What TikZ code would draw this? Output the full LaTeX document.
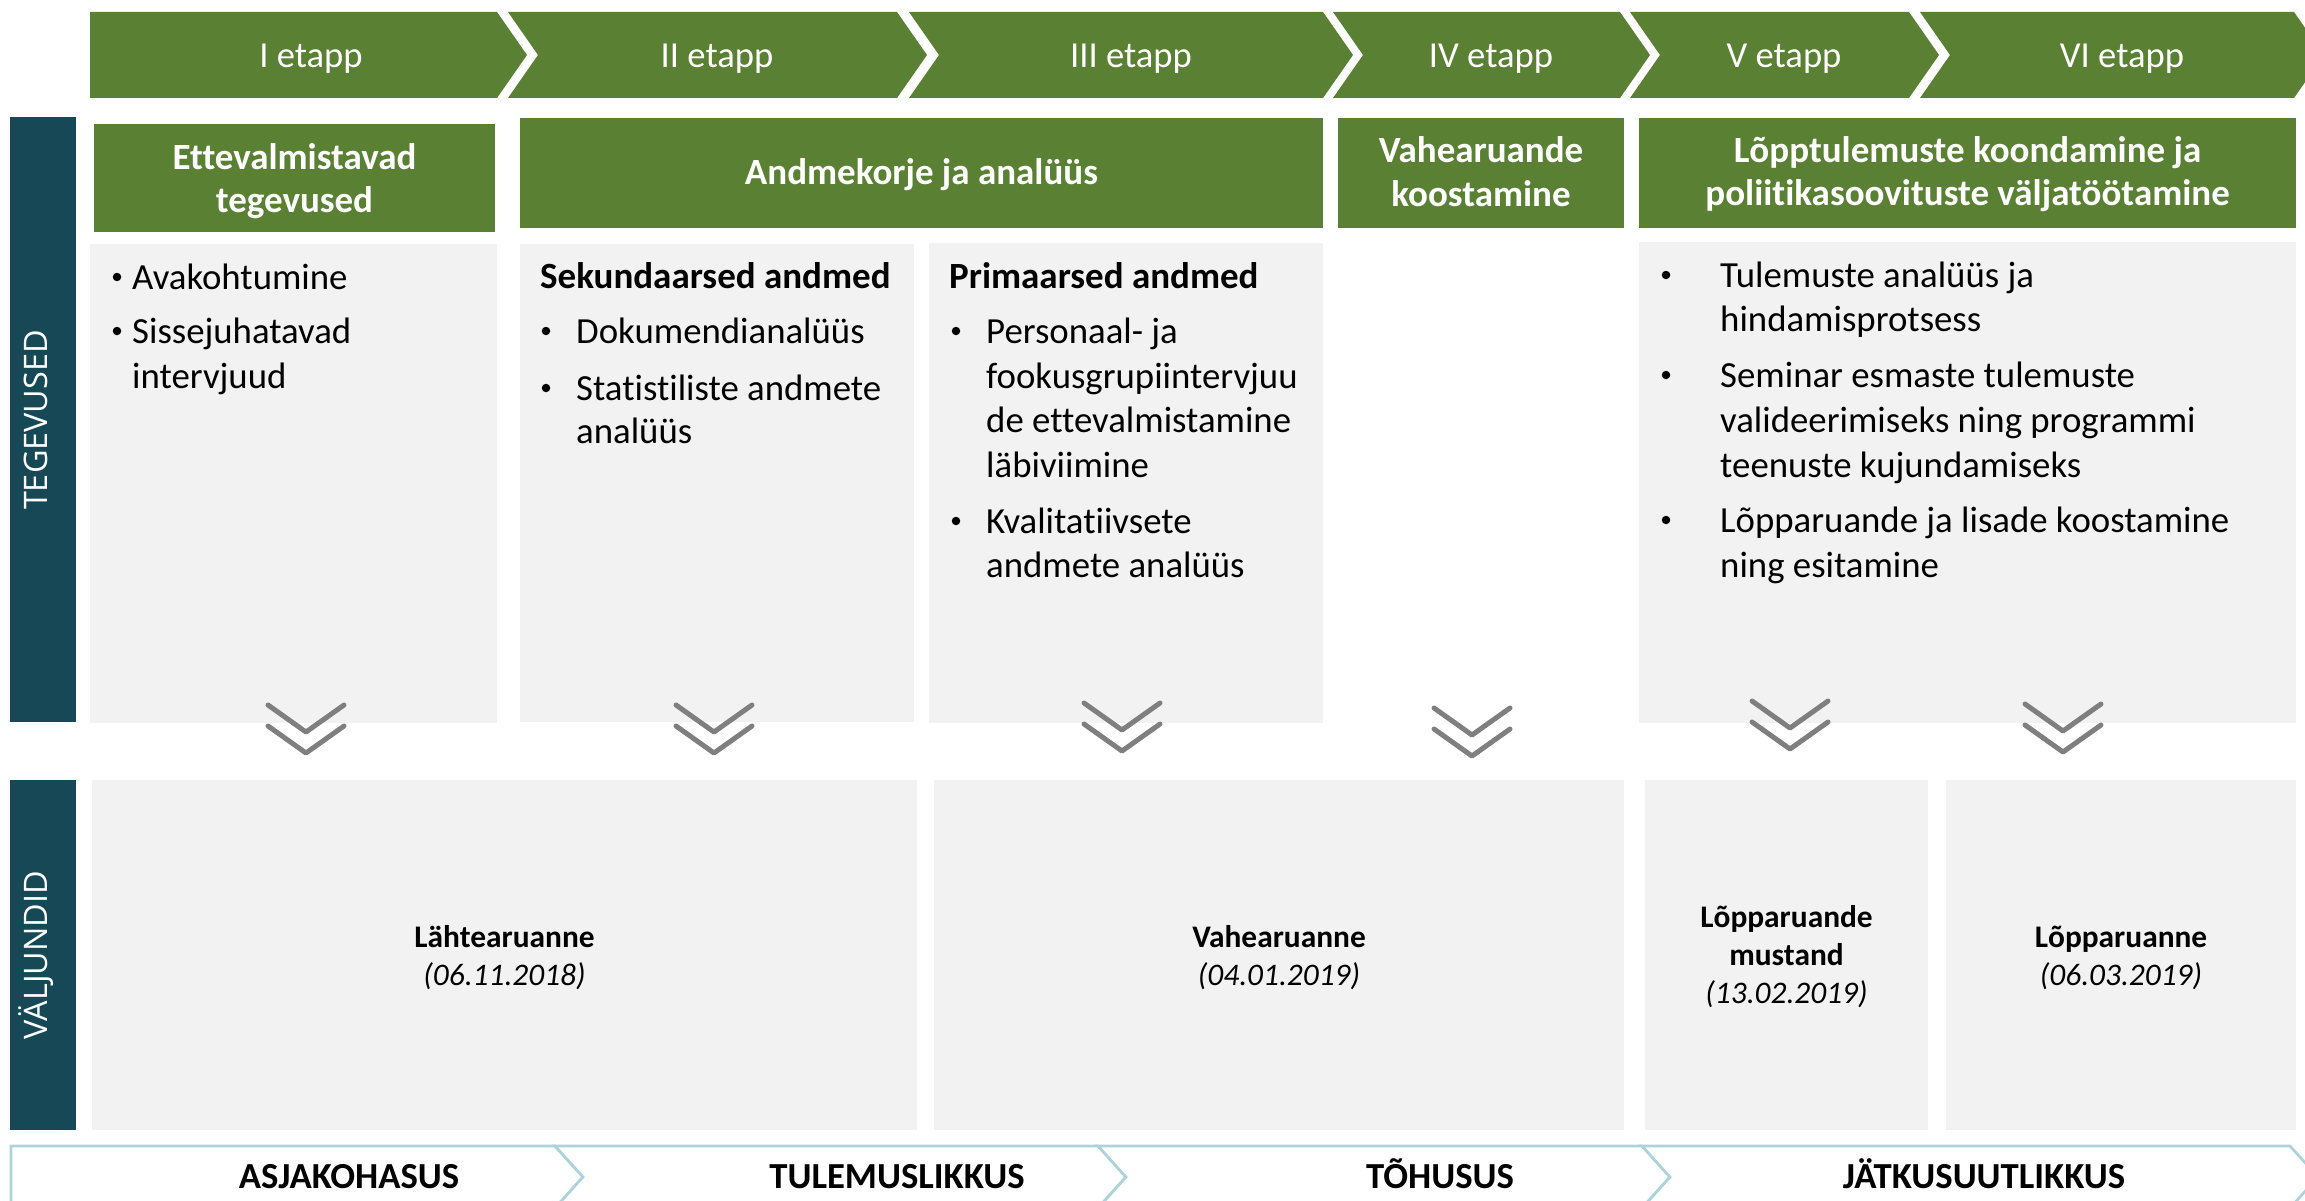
\documentclass[tikz,border=0pt]{standalone}
\usepackage{fontspec}
\setmainfont{Carlito}[Ligatures=NoCommon]
\newfontfamily\sidefont{Open Sans}
\definecolor{stagegreen}{RGB}{90,128,52}
\definecolor{deepteal}{RGB}{23,72,86}
\definecolor{panelgrey}{RGB}{242,242,242}
\definecolor{arrowgrey}{RGB}{127,127,127}
\definecolor{critline}{RGB}{172,210,220}
\begin{document}
\begin{tikzpicture}[x=1pt,y=-1pt,
  panel/.style={fill=panelgrey, draw=none, inner sep=0pt, anchor=north west},
  hdrbox/.style={fill=stagegreen, draw=none, inner sep=0pt, anchor=north west},
  sidebar/.style={fill=deepteal, draw=none, inner sep=0pt, anchor=north west},
  stagelbl/.style={text=white, font=\fontsize{36.6}{44}\selectfont, anchor=base, inner sep=0pt},
  hdrtxt/.style={text=white, font=\fontsize{37}{44}\selectfont\bfseries, anchor=base, inner sep=0pt},
  itemtxt/.style={font=\fontsize{36.8}{44}\selectfont, anchor=base west, inner sep=0pt},
  itemhead/.style={font=\fontsize{37}{44}\selectfont\bfseries, anchor=base west, inner sep=0pt},
  bulletmark/.style={circle, fill=black, draw=none, minimum size=8.5pt, inner sep=0pt, yshift=12pt},
  outtitle/.style={font=\fontsize{31.4}{38}\selectfont\bfseries, anchor=base, inner sep=0pt},
  outdate/.style={font=\fontsize{31.4}{38}\selectfont\itshape, anchor=base, inner sep=0pt},
  sidetxt/.style={text=white, font=\sidefont\fontsize{32.4}{38}\selectfont, rotate=90, anchor=base, inner sep=0pt},
  crittxt/.style={font=\fontsize{36.7}{44}\selectfont\bfseries, anchor=base, inner sep=0pt},
  critseg/.style={fill=white, draw=critline, line width=2.7pt, line join=miter},
  flowdown/.pic={
    \draw[arrowgrey, line width=5pt, line cap=round, line join=round]
      (-38,2) -- (0,29) -- (38,2);
    \draw[arrowgrey, line width=5pt, line cap=round, line join=round]
      (-38,23) -- (0,50) -- (38,23);
  }
]
\useasboundingbox (0,0) rectangle (2305,1201);
\clip (0,0) rectangle (2305,1201);

% ---- stage chevrons ----
\fill[stagegreen] (90,12) -- (497,12) -- (527,55) -- (497,98) -- (90,98) -- cycle;
\fill[stagegreen] (508,12) -- (897,12) -- (927,55) -- (897,98) -- (508,98) -- (538,55) -- cycle;
\fill[stagegreen] (909,12) -- (1323,12) -- (1353,55) -- (1323,98) -- (909,98) -- (939,55) -- cycle;
\fill[stagegreen] (1333,12) -- (1620,12) -- (1650,55) -- (1620,98) -- (1333,98) -- (1363,55) -- cycle;
\fill[stagegreen] (1630,12) -- (1909,12) -- (1939,55) -- (1909,98) -- (1630,98) -- (1660,55) -- cycle;
\fill[stagegreen] (1920,12) -- (2294,12) -- (2324,55) -- (2294,98) -- (1920,98) -- (1950,55) -- cycle;
\node[stagelbl] (s1) at (311,68) {I etapp};
\node[stagelbl] (s2) at (717,68) {II etapp};
\node[stagelbl] (s3) at (1131,68) {III etapp};
\node[stagelbl] (s4) at (1491,68) {IV etapp};
\node[stagelbl] (s5) at (1784,68) {V etapp};
\node[stagelbl] (s6) at (2122,68) {VI etapp};

% ---- side bars ----
\node[sidebar, minimum width=66pt, minimum height=605pt] (barA) at (10,117) {};
\node[sidebar, minimum width=66pt, minimum height=350pt] (barB) at (10,780) {};
\node[sidetxt] (lblA) at (47,420) {TEGEVUSED};
\node[sidetxt] (lblB) at (47,955) {VÄLJUNDID};

% ---- activity headers ----
\node[hdrbox, minimum width=401pt, minimum height=108pt] (h1) at (94,124) {};
\node[hdrbox, minimum width=803pt, minimum height=110pt] (h2) at (520,118) {};
\node[hdrbox, minimum width=286pt, minimum height=110pt] (h3) at (1338,118) {};
\node[hdrbox, minimum width=657pt, minimum height=110pt] (h4) at (1639,118) {};
\node[hdrtxt] (h1a) at (294.5,170) {Ettevalmistavad};
\node[hdrtxt] (h1b) at (294.5,213) {tegevused};
\node[hdrtxt] (h2a) at (921.5,185) {Andmekorje ja analüüs};
\node[hdrtxt] (h3a) at (1481,163) {Vahearuande};
\node[hdrtxt] (h3b) at (1481,207) {koostamine};
\node[hdrtxt] (h4a) at (1967.5,163) {Lõpptulemuste koondamine ja};
\node[hdrtxt] (h4b) at (1967.5,206) {poliitikasoovituste väljatöötamine};

% ---- activity panels ----
\node[panel, minimum width=407pt, minimum height=479pt] (g1) at (90,244) {};
\node[panel, minimum width=394pt, minimum height=478pt] (g2) at (520,244) {};
\node[panel, minimum width=394pt, minimum height=480pt] (g3) at (929,243) {};
\node[panel, minimum width=657pt, minimum height=481pt] (g4) at (1639,242) {};

% panel 1
\node[bulletmark] (g1d1) at (117,289) {};
\node[itemtxt] (g1t1) at (132,289) {Avakohtumine};
\node[bulletmark] (g1d2) at (117,343) {};
\node[itemtxt] (g1t2) at (132,343) {Sissejuhatavad};
\node[itemtxt] (g1t3) at (132,388) {intervjuud};

% panel 2
\node[itemhead] (g2h) at (540,288) {Sekundaarsed andmed};
\node[bulletmark] (g2d1) at (546,343) {};
\node[itemtxt] (g2t1) at (576,343) {Dokumendianalüüs};
\node[bulletmark] (g2d2) at (546,400) {};
\node[itemtxt] (g2t2) at (576,400) {Statistiliste andmete};
\node[itemtxt] (g2t3) at (576,443) {analüüs};

% panel 3
\node[itemhead] (g3h) at (949,288) {Primaarsed andmed};
\node[bulletmark] (g3d1) at (956,343) {};
\node[itemtxt] (g3t1) at (986,343) {Personaal- ja};
\node[itemtxt] (g3t2) at (986,388) {fookusgrupiintervjuu};
\node[itemtxt] (g3t3) at (986,432) {de ettevalmistamine};
\node[itemtxt] (g3t4) at (986,477) {läbiviimine};
\node[bulletmark] (g3d2) at (956,533) {};
\node[itemtxt] (g3t5) at (986,533) {Kvalitatiivsete};
\node[itemtxt] (g3t6) at (986,577) {andmete analüüs};

% panel 4
\node[bulletmark] (g4d1) at (1666,287) {};
\node[itemtxt] (g4t1) at (1720,287) {Tulemuste analüüs ja};
\node[itemtxt] (g4t2) at (1720,331) {hindamisprotsess};
\node[bulletmark] (g4d2) at (1666,387) {};
\node[itemtxt] (g4t3) at (1720,387) {Seminar esmaste tulemuste};
\node[itemtxt] (g4t4) at (1720,432) {valideerimiseks ning programmi};
\node[itemtxt] (g4t5) at (1720,477) {teenuste kujundamiseks};
\node[bulletmark] (g4d3) at (1666,532) {};
\node[itemtxt] (g4t6) at (1720,532) {Lõpparuande ja lisade koostamine};
\node[itemtxt] (g4t7) at (1720,577) {ning esitamine};

% ---- downward markers ----
\pic at (306,703) {flowdown};
\pic at (714,703) {flowdown};
\pic at (1122,701) {flowdown};
\pic at (1472,706) {flowdown};
\pic at (1790,699) {flowdown};
\pic at (2063,702) {flowdown};

% ---- output panels ----
\node[panel, minimum width=825pt, minimum height=350pt] (o1) at (92,780) {};
\node[panel, minimum width=690pt, minimum height=350pt] (o2) at (934,780) {};
\node[panel, minimum width=283pt, minimum height=350pt] (o3) at (1645,780) {};
\node[panel, minimum width=350pt, minimum height=350pt] (o4) at (1946,780) {};
\node[outtitle] (o1a) at (504.5,947) {Lähtearuanne};
\node[outdate] (o1b) at (504.5,985) {(06.11.2018)};
\node[outtitle] (o2a) at (1279,947) {Vahearuanne};
\node[outdate] (o2b) at (1279,985) {(04.01.2019)};
\node[outtitle] (o3a) at (1786.5,927) {Lõpparuande};
\node[outtitle] (o3b) at (1786.5,965) {mustand};
\node[outdate] (o3c) at (1786.5,1003) {(13.02.2019)};
\node[outtitle] (o4a) at (2121,947) {Lõpparuanne};
\node[outdate] (o4b) at (2121,985) {(06.03.2019)};

% ---- evaluation criteria band ----
\path[critseg] (11,1146) -- (555,1146) -- (583,1177) -- (555,1208) -- (11,1208) -- cycle;
\path[critseg] (555,1146) -- (1098,1146) -- (1126,1177) -- (1098,1208) -- (555,1208) -- (583,1177) -- cycle;
\path[critseg] (1098,1146) -- (1642,1146) -- (1670,1177) -- (1642,1208) -- (1098,1208) -- (1126,1177) -- cycle;
\path[critseg] (1642,1146) -- (2290,1146) -- (2318,1177) -- (2290,1208) -- (1642,1208) -- (1670,1177) -- cycle;
\node[crittxt] (c1) at (349,1188) {ASJAKOHASUS};
\node[crittxt] (c2) at (897,1188) {TULEMUSLIKKUS};
\node[crittxt] (c3) at (1440,1188) {TÕHUSUS};
\node[crittxt] (c4) at (1984,1188) {JÄTKUSUUTLIKKUS};
\end{tikzpicture}
\end{document}
